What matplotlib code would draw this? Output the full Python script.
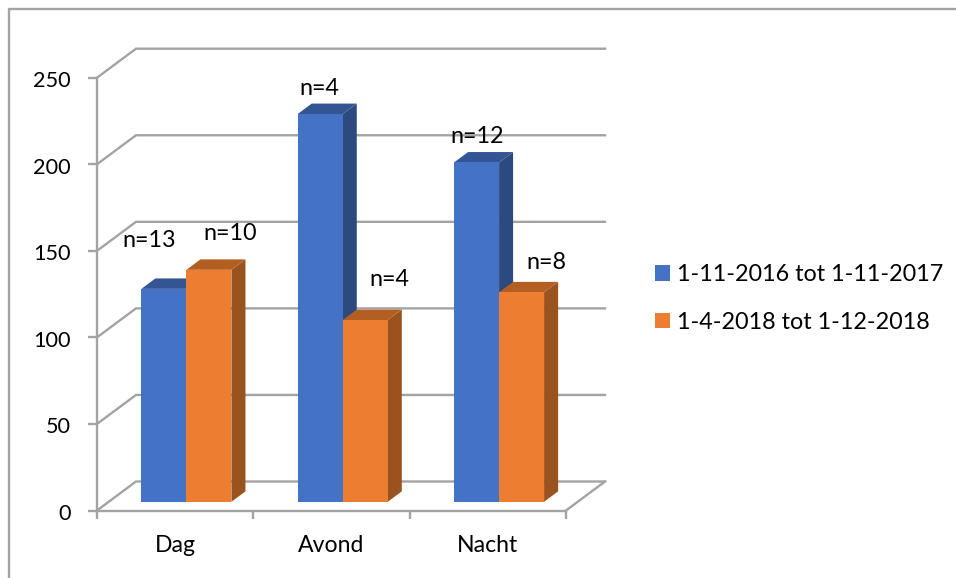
import matplotlib
matplotlib.use("Agg")
import matplotlib.pyplot as plt
from matplotlib.lines import Line2D
from matplotlib.patches import Patch, Polygon
from matplotlib.transforms import ScaledTranslation

categories = ["Dag", "Avond", "Nacht"]
series_names = ["1-11-2016 tot 1-11-2017", "1-4-2018 tot 1-12-2018"]
series_a = [123, 224, 196]
series_b = [134, 105, 121]
labels_a = ["n=13", "n=4", "n=12"]
labels_b = ["n=10", "n=4", "n=8"]
y_ticks = [0, 50, 100, 150, 200, 250]

W, H = 956, 578
GREY = "#a3a3a3"
LW = 1.7
FONT = "Lato"
FS = 15.6
CATFS = 16.6
LABFS = 16.8
LEGFS = 16.8
plt.rcParams["font.family"] = [FONT, "DejaVu Sans"]

fig = plt.figure(figsize=(W / 100, H / 100), dpi=100, facecolor="white")
L, R, T, B = 97, 566, 77.7, 510.5
ax = fig.add_axes([L / W, 1 - B / H, (R - L) / W, (B - T) / H])
ax.set_xlim(0, 3)
ax.set_ylim(0, 250)
ax.patch.set_alpha(0)

DX = 39 / ((R - L) / 3)
DY = 29 / ((B - T) / 250)
D0, D1 = 0.30, 0.66
BW = 0.288

for v in y_ticks:
    ax.plot([0, DX, 3 + DX], [v, v + DY, v + DY], color=GREY, lw=LW, clip_on=False, zorder=1, solid_joinstyle="miter")
ax.plot([3, 3 + DX], [0, DY], color=GREY, lw=LW, clip_on=False, zorder=1)

colors = [("#4472c4", "#2c4a7e", "#335593"), ("#ed7d31", "#9a521f", "#b35f22")]
z = 2
for j, vals in enumerate([series_a, series_b]):
    front, side, top = colors[j]
    for i, v in enumerate(vals):
        x0 = i + 0.5 + (j - 1) * BW + D0 * DX - 0.003
        x1 = x0 + BW
        base = D0 * DY
        ddx, ddy = (D1 - D0) * DX, (D1 - D0) * DY
        ax.add_patch(Polygon([(x1, base), (x1 + ddx, base + ddy), (x1 + ddx, base + v + ddy), (x1, base + v)],
                             fc=side, ec="none", clip_on=False, zorder=z))
        ax.add_patch(Polygon([(x0, base + v), (x0 + ddx, base + v + ddy), (x1 + ddx, base + v + ddy), (x1, base + v)],
                             fc=top, ec="none", clip_on=False, zorder=z))
        ax.bar(x0, v, BW, bottom=base, align="edge", color=front, clip_on=False, zorder=z + 0.1)
        z += 1

# label offsets from the top centre of each bar's front face, in pixels
offs_a = [(-15, 48), (-1, 26), (0, 26)]
offs_b = [(21, 36), (23.5, 41), (24, 30)]
for j, (vals, labs, offs) in enumerate([(series_a, labels_a, offs_a), (series_b, labels_b, offs_b)]):
    for i, (v, s, o) in enumerate(zip(vals, labs, offs)):
        xc = i + 0.5 + (j - 0.5) * BW + D0 * DX
        ax.annotate(s, (xc, v + D0 * DY), xytext=(o[0] * 0.72, o[1] * 0.72), textcoords="offset points",
                    ha="center", va="center", fontsize=LABFS, color="black", annotation_clip=False, zorder=50)

for s in ("top", "right"):
    ax.spines[s].set_visible(False)
for s in ("left", "bottom"):
    ax.spines[s].set_color(GREY)
    ax.spines[s].set_linewidth(LW)
    ax.spines[s].set_zorder(1.5)
ax.set_yticks(y_ticks)
ax.set_xticks([0, 1, 2, 3])
ax.set_xticks([0.5, 1.5, 2.5], minor=True)
ax.set_xticklabels([])
ax.set_xticklabels(categories, minor=True)
ax.tick_params(axis="y", length=6.2, width=LW, color=GREY, pad=12.5, labelsize=FS)
ax.tick_params(axis="x", which="major", length=6, width=LW, color=GREY)
ax.tick_params(axis="x", which="minor", length=0, pad=18, labelsize=CATFS)
for lab in ax.get_yticklabels():
    lab.set_transform(lab.get_transform() + ScaledTranslation(0, -1.5 / 100, fig.dpi_scale_trans))

fig.add_artist(Line2D([9 / W, 9 / W, 1], [0, 1 - 9 / H, 1 - 9 / H], color=GREY, lw=LW))

handles = [Patch(fc=colors[0][0]), Patch(fc=colors[1][0])]
fig.legend(handles, series_names, loc="upper left", bbox_to_anchor=(648 / W, 1 - 257 / H), frameon=False,
           fontsize=LEGFS, handlelength=0.65, handleheight=0.65, handletextpad=0.3, labelspacing=1.15,
           borderpad=0.3, borderaxespad=0)

fig.savefig("out.png", dpi=100)
